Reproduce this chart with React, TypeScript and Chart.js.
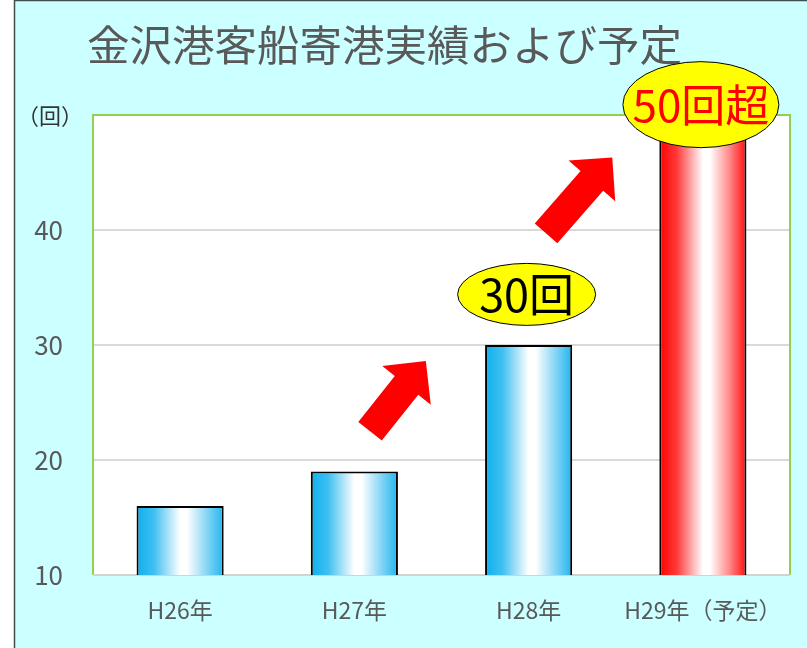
import React, { useEffect, useRef } from 'react';
import { Chart, registerables } from 'chart.js';
Chart.register(...registerables);

const chartTitle = '金沢港客船寄港実績および予定';
const categories = ['H26年', 'H27年', 'H28年', 'H29年（予定）'];
const visits = [16, 19, 30, 50];
const yMin = 10;
const yMax = 50;
const yStep = 10;
const unitLabel = '（回）';
const calloutTexts = ['30回', '50回超'];
const calloutIndex = [2, 3];
const calloutValues = [34.4, 50.9];
const calloutColors = ['#000000', '#ff0000'];
// arrows: [tail index, tail value, tip index, tip value]
const arrowTails = [[1.09, 22.5], [2.1, 39.7]];
const arrowTips = [[1.41, 28.6], [2.48, 46.3]];

const FONT = '"Noto Sans CJK JP", "Noto Sans", sans-serif';

function idxToPx(chart: any, v: number) {
  const xs = chart.scales.x;
  const a = xs.getPixelForValue(0);
  const b = xs.getPixelForValue(1);
  return a + (b - a) * v;
}

function drawArrow(ctx: CanvasRenderingContext2D, tx: number, ty: number, px: number, py: number) {
  const dx = px - tx, dy = py - ty;
  const len = Math.hypot(dx, dy);
  const ux = dx / len, uy = dy / len;
  const nx = -uy, ny = ux;
  const sw = 15, hw = 31, hl = 31;
  const bx = px - ux * hl, by = py - uy * hl;
  ctx.beginPath();
  ctx.moveTo(tx + nx * sw, ty + ny * sw);
  ctx.lineTo(bx + nx * sw, by + ny * sw);
  ctx.lineTo(bx + nx * hw, by + ny * hw);
  ctx.lineTo(px, py);
  ctx.lineTo(bx - nx * hw, by - ny * hw);
  ctx.lineTo(bx - nx * sw, by - ny * sw);
  ctx.lineTo(tx - nx * sw, ty - ny * sw);
  ctx.closePath();
  ctx.fillStyle = '#ff0000';
  ctx.fill();
}

const decorPlugin = {
  id: 'decor',
  beforeDraw(chart: any) {
    const { ctx, width, height, chartArea } = chart;
    ctx.save();
    ctx.fillStyle = '#ffffff';
    ctx.fillRect(0, 0, width, height);
    ctx.fillStyle = '#ccffff';
    ctx.fillRect(15, 1, width - 15, height - 1);
    ctx.strokeStyle = '#3f4f4f';
    ctx.lineWidth = 1.5;
    ctx.beginPath();
    ctx.moveTo(14.5, height);
    ctx.lineTo(14.5, 0.5);
    ctx.lineTo(width, 0.5);
    ctx.stroke();
    ctx.fillStyle = '#ffffff';
    ctx.fillRect(chartArea.left, chartArea.top, chartArea.right - chartArea.left, chartArea.bottom - chartArea.top);
    // title
    ctx.fillStyle = '#595959';
    ctx.font = `42.5px ${FONT}`;
    ctx.textAlign = 'left';
    ctx.textBaseline = 'middle';
    ctx.fillText(chartTitle, 87, 45);
    // unit label
    ctx.fillStyle = '#333333';
    ctx.font = `22px ${FONT}`;
    ctx.textAlign = 'center';
    ctx.fillText(unitLabel, 50, chartArea.top + 1);
    ctx.restore();
  },
  beforeDatasetsDraw(chart: any) {
    const { ctx, chartArea } = chart;
    ctx.save();
    ctx.lineWidth = 2;
    ctx.strokeStyle = '#92d050';
    ctx.beginPath();
    ctx.moveTo(chartArea.left, chartArea.bottom);
    ctx.lineTo(chartArea.left, chartArea.top);
    ctx.lineTo(chartArea.right, chartArea.top);
    ctx.lineTo(chartArea.right, chartArea.bottom);
    ctx.stroke();
    ctx.strokeStyle = '#d4d4cc';
    ctx.beginPath();
    ctx.moveTo(chartArea.left, chartArea.bottom);
    ctx.lineTo(chartArea.right, chartArea.bottom);
    ctx.stroke();
    ctx.restore();
  },
  afterDatasetsDraw(chart: any) {
    const { ctx } = chart;
    const ys = chart.scales.y;
    ctx.save();
    for (let i = 0; i < arrowTails.length; i++) {
      drawArrow(
        ctx,
        idxToPx(chart, arrowTails[i][0]), ys.getPixelForValue(arrowTails[i][1]),
        idxToPx(chart, arrowTips[i][0]), ys.getPixelForValue(arrowTips[i][1])
      );
    }
    const sizes = [[69, 31], [78, 43]];
    const fsz = [45, 44];
    for (let i = 0; i < calloutTexts.length; i++) {
      const cx = idxToPx(chart, calloutIndex[i]) - 2;
      const cy = ys.getPixelForValue(calloutValues[i]);
      ctx.beginPath();
      ctx.ellipse(cx, cy, sizes[i][0], sizes[i][1], 0, 0, Math.PI * 2);
      ctx.fillStyle = '#ffff00';
      ctx.fill();
      ctx.lineWidth = 1;
      ctx.strokeStyle = '#000000';
      ctx.stroke();
      ctx.fillStyle = calloutColors[i];
      ctx.font = `${fsz[i]}px ${FONT}`;
      ctx.textAlign = 'center';
      ctx.textBaseline = 'middle';
      ctx.fillText(calloutTexts[i], cx, cy + 1);
    }
    ctx.restore();
  },
};

export default function App() {
  const ref = useRef<HTMLCanvasElement | null>(null);
  useEffect(() => {
    if (!ref.current) return;
    const chart = new Chart(ref.current, {
      type: 'bar',
      data: {
        labels: categories,
        datasets: [
          {
            data: visits,
            backgroundColor: (c: any) => {
              const ch = c.chart;
              if (!ch.chartArea || c.type !== 'data') return '#00b0f0';
              const xs = ch.scales.x;
              const cx = xs.getPixelForValue(c.dataIndex);
              const w = (xs.width / categories.length) * 0.5;
              const g = ch.ctx.createLinearGradient(cx - w / 2, 0, cx + w / 2, 0);
              if (c.dataIndex === categories.length - 1) {
                g.addColorStop(0, '#ff0000');
                g.addColorStop(0.2, '#ff3a3a');
                g.addColorStop(0.5, '#ffffff');
                g.addColorStop(0.58, '#ffffff');
                g.addColorStop(0.8, '#ff8c8c');
                g.addColorStop(1, '#ff0c0c');
              } else {
                g.addColorStop(0, '#0db0ee');
                g.addColorStop(0.2, '#40bff1');
                g.addColorStop(0.5, '#ffffff');
                g.addColorStop(0.58, '#ffffff');
                g.addColorStop(0.8, '#8ad6f5');
                g.addColorStop(1, '#1eb6ee');
              }
              return g;
            },
            borderColor: '#000000',
            borderWidth: 2,
            borderSkipped: 'bottom',
            barPercentage: 1,
            categoryPercentage: 0.5,
          },
        ],
      },
      options: {
        responsive: false,
        animation: false,
        layout: { padding: { left: 15, top: 115, right: 17, bottom: 0 } },
        plugins: {
          legend: { display: false },
          tooltip: { enabled: false },
          title: { display: false },
        },
        scales: {
          x: {
            afterFit: (s: any) => { s.height = 73; },
            grid: { display: false, drawTicks: false },
            border: { display: false },
            ticks: {
              color: '#595959',
              font: { family: FONT, size: 23 },
              padding: 21,
              maxRotation: 0,
            },
          },
          y: {
            min: yMin,
            max: yMax,
            afterFit: (s: any) => { s.width = 78; },
            grid: {
              drawTicks: false,
              lineWidth: 2,
              color: (c: any) => (c.tick && c.tick.value > yMin && c.tick.value < yMax ? '#d9d9d9' : 'rgba(0,0,0,0)'),
            },
            border: { display: false },
            ticks: {
              stepSize: yStep,
              color: '#595959',
              font: { family: FONT, size: 26 },
              padding: 30,
              callback: (v: any) => (v >= yMax ? '' : String(v)),
            },
          },
        },
      },
      plugins: [decorPlugin],
    });
    return () => chart.destroy();
  }, []);
  return (
    <div style={{ position: 'fixed', left: 0, top: 0, width: 807, height: 648 }}>
      <canvas ref={ref} width={807} height={648} style={{ width: 807, height: 648, display: 'block' }} />
    </div>
  );
}
